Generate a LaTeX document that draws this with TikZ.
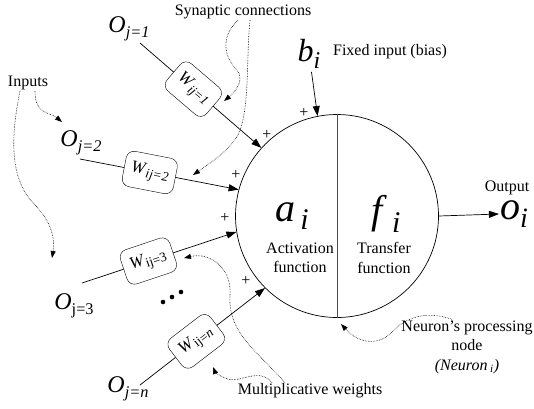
\documentclass[tikz,border=0pt]{standalone}
\usepackage{fontspec}
\setmainfont{Liberation Serif}
\usetikzlibrary{arrows.meta,positioning,calc}
\newcommand{\symb}[3][0.68]{\textit{#2}\raisebox{-0.45ex}{\scalebox{#1}{#3}}}

\begin{document}
\begin{tikzpicture}[x=1pt,y=-1pt,
    weightbox/.style={draw,rounded corners=8pt,fill=white,minimum width=52pt,minimum height=36pt,inner sep=1pt,font=\fontsize{17}{17}\selectfont},
    wire/.style={line width=0.7pt},
    tip/.style={-{Triangle[length=10pt,width=7pt]}},
    remark/.style={densely dotted,line width=0.6pt,-{Triangle[length=7pt,width=5pt]}},
    caption/.style={font=\fontsize{16}{19.5}\selectfont,align=center,inner sep=1pt},
    plus/.style={font=\fontsize{16}{16}\selectfont,inner sep=0pt},
    inlabel/.style={font=\fontsize{24}{24}\selectfont,inner sep=1pt}]
  \useasboundingbox (0,0) rectangle (534,408);
  % Neuron body split in two halves
  \node[draw,circle,minimum size=203pt,line width=0.7pt] (neuron) at (337,216) {};
  \draw[black!70,line width=0.7pt] (neuron.north) -- (neuron.south);
  \node[font=\fontsize{40}{40}\selectfont] (act) at (292,216) {\symb[0.75]{a}{\,\itshape i}};
  \node[font=\fontsize{40}{40}\selectfont] (tra) at (386,214) {\symb[0.75]{f}{\,\itshape i}};
  \node[caption] (actlab) at (300,258) {Activation\\function};
  \node[caption] (tralab) at (384,258) {Transfer\\function};
  % Inputs: start point / anchor on neuron / rotation / place of box / weight
  \foreach \k/\sx/\sy/\ang/\rot/\pos/\wlab in {
      1/140/43/138/-40.5/0.44/{\symb[0.78]{W}{\itshape ij=1}},
      2/80/159/165/-11/0.44/{\symb[0.78]{W}{\itshape ij=2}},
      3/82/283/189/18.5/0.43/{\symb[0.78]{W}{ij=3}},
      n/140/385/225/37.5/0.45/{\symb[0.78]{W}{ij=\itshape n}}} {
    \coordinate (s\k) at (\sx,\sy);
    \node[weightbox,rotate=\rot] (w\k) at ($(s\k)!\pos!(neuron.\ang)$) {\wlab};
    \draw[wire] (s\k) -- (w\k);
    \draw[wire,tip] (w\k) -- (neuron.\ang);
  }
  \node[inlabel] (o1) at (129,29) {\symb{O}{\itshape j=1}};
  \node[inlabel] (o2) at (81,143) {\symb{O}{\itshape j=2}};
  \node[inlabel] (o3) at (74,306) {\symb{O}{j=3}};
  \node[inlabel] (on) at (128,389) {\symb{O}{\itshape j=n}};
  \foreach \x/\y in {163/302,172/297,181/292} \fill (\x,\y) circle (2.3pt);
  % Signs at the inputs
  \foreach \x/\y in {304/113,267/135,236/175,225/218,246/281} \node[plus] at (\x,\y) {+};
  % Bias and output
  \node[font=\fontsize{32}{32}\selectfont] (bias) at (309,54) {\symb[0.75]{b}{\itshape i}};
  \node[caption] (biaslab) at (390,52) {Fixed input (bias)};
  \draw[wire,tip] (bias) -- (neuron.101);
  \node[font=\fontsize{40}{40}\selectfont,inner sep=1pt] (out) at (514,214) {\symb[0.7]{o}{\itshape i}};
  \node[caption] (outlab) at (507,188) {Output};
  \draw[wire,tip] (neuron.east) -- (out.west);
  % Labels with dotted pointers
  \node[caption] (syn) at (243,12) {Synaptic connections};
  \node[caption] (inp) at (28,83) {Inputs};
  \node[caption] (mult) at (310,391) {Multiplicative weights};
  \node[caption] (proc) at (467,347) {Neuron's processing\\node\\{\itshape(Neuron\,\textsubscript{i})}};
  \coordinate (p1) at (224,101);
  \coordinate (p2) at (193,175);
  \coordinate (p3) at (62,122);
  \coordinate (p4) at (52,258);
  \coordinate (p5) at (213,367);
  \coordinate (p6) at (184,258);
  \coordinate (p7) at (341,324);
  \draw[remark] ([xshift=-5pt]syn.south) .. controls (222,35) and (222,55) .. (237,70)
    .. controls (245,80) and (235,92) .. (p1);
  \draw[remark] ([xshift=7pt]syn.south) .. controls (246,60) and (250,110) .. (238,135)
    .. controls (228,152) and (210,163) .. (p2);
  \draw[remark] ([xshift=7pt]inp.south) .. controls (35,115) and (50,112) .. (p3);
  \draw[remark] ([xshift=-8pt]inp.south) .. controls (10,140) and (10,180) .. (35,205)
    .. controls (52,222) and (55,240) .. (p4);
  \draw[remark] ([xshift=-38pt]mult.north) .. controls (258,366) and (240,385) .. (225,378)
    .. controls (218,375) and (215,372) .. (p5);
  \draw[remark] ([xshift=-25pt]mult.north) .. controls (250,345) and (228,330) .. (230,295)
    .. controls (232,268) and (210,252) .. (p6);
  \draw[remark] ([xshift=-15pt]proc.north) .. controls (425,310) and (405,318) .. (392,332)
    .. controls (380,345) and (360,345) .. (p7);
\end{tikzpicture}
\end{document}
